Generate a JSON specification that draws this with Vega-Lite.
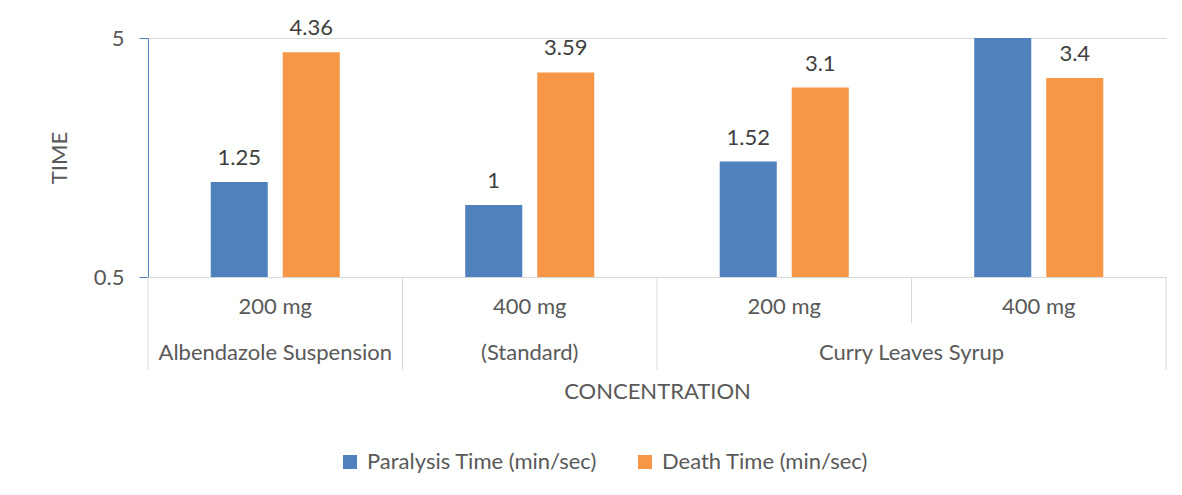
{
  "$schema": "https://vega.github.io/schema/vega-lite/v6.json",
  "width": 1018,
  "height": 239,
  "autosize": {"type": "none"},
  "padding": {"left": 148, "top": 38, "right": 16, "bottom": 218},
  "background": "white",
  "config": {"view": {"stroke": null}, "font": "Lato"},
  "data": {
    "values": [
      {"cat": "A200", "series": "Paralysis Time (min/sec)", "value": 1.25},
      {"cat": "A200", "series": "Death Time (min/sec)", "value": 4.36},
      {"cat": "A400", "series": "Paralysis Time (min/sec)", "value": 1},
      {"cat": "A400", "series": "Death Time (min/sec)", "value": 3.59},
      {"cat": "C200", "series": "Paralysis Time (min/sec)", "value": 1.52},
      {"cat": "C200", "series": "Death Time (min/sec)", "value": 3.1},
      {"cat": "C400", "series": "Paralysis Time (min/sec)", "value": 5.2},
      {"cat": "C400", "series": "Death Time (min/sec)", "value": 3.4}
    ]
  },
  "layer": [
    {
      "mark": {"type": "bar", "clip": true},
      "encoding": {
        "x": {
          "field": "cat", "type": "nominal", "title": "CONCENTRATION",
          "scale": {"domain": ["A200", "A400", "C200", "C400"], "paddingInner": 0, "paddingOuter": 0},
          "axis": {
            "ticks": false, "domainColor": "#D9D9D9",
            "labelExpr": "slice(datum.value,1) + ' mg'", "labelAngle": 0, "labelFontSize": 22,
            "labelColor": "#595959", "labelPadding": 19, "titleFontSize": 22, "titleColor": "#595959",
            "titleFontWeight": "normal", "titlePadding": 64, "grid": false
          }
        },
        "xOffset": {
          "field": "series", "type": "nominal",
          "scale": {"domain": ["Paralysis Time (min/sec)", "Death Time (min/sec)"], "paddingInner": 0.208, "paddingOuter": 0.871}
        },
        "y": {
          "field": "value", "type": "quantitative", "title": "TIME",
          "scale": {"type": "log", "domain": [0.5, 5], "nice": false},
          "axis": {
            "values": [0.5, 5], "domainColor": "#4F81BD", "tickColor": "#4F81BD", "tickSize": 9,
            "labelPadding": 15, "labelFontSize": 22, "labelColor": "#595959", "grid": true, "gridColor": "#D9D9D9",
            "titleFontSize": 22, "titleColor": "#595959", "titleFontWeight": "normal", "titlePadding": 22
          }
        },
        "y2": {"datum": 0.5},
        "color": {
          "field": "series", "type": "nominal",
          "scale": {"domain": ["Paralysis Time (min/sec)", "Death Time (min/sec)"], "range": ["#4F81BD", "#F79646"]},
          "legend": {
            "orient": "none", "legendX": 191, "legendY": 413, "direction": "horizontal", "title": null,
            "symbolType": "square", "symbolSize": 196, "labelOffset": 6, "labelLimit": 400,
            "labelFontSize": 22, "labelColor": "#595959", "columnPadding": 36
          }
        }
      }
    },
    {
      "transform": [{"filter": "datum.value <= 5"}],
      "mark": {"type": "text", "dy": -17, "baseline": "alphabetic", "fontSize": 22, "color": "#404040"},
      "encoding": {
        "x": {"field": "cat", "type": "nominal"},
        "xOffset": {"field": "series", "type": "nominal"},
        "y": {"field": "value", "type": "quantitative"},
        "text": {"field": "value", "type": "nominal"}
      }
    },
    {
      "data": {"values": [{"cat": "A400"}, {"cat": "C400"}]},
      "mark": {"type": "rule", "color": "#D9D9D9", "strokeWidth": 1},
      "encoding": {
        "x": {"field": "cat", "type": "nominal", "bandPosition": 0},
        "y": {"datum": 0.5, "type": "quantitative"},
        "y2": {"datum": 0.321}
      }
    },
    {
      "data": {"values": [{"cat": "A200"}, {"cat": "A400"}, {"cat": "C200"}]},
      "mark": {"type": "rule", "color": "#D9D9D9", "strokeWidth": 1},
      "encoding": {
        "x": {"field": "cat", "type": "nominal", "bandPosition": 0},
        "y": {"datum": 0.5, "type": "quantitative"},
        "y2": {"datum": 0.204}
      }
    },
    {
      "data": {"values": [{"cat": "C400"}]},
      "mark": {"type": "rule", "color": "#D9D9D9", "strokeWidth": 1},
      "encoding": {
        "x": {"field": "cat", "type": "nominal", "bandPosition": 1},
        "y": {"datum": 0.5, "type": "quantitative"},
        "y2": {"datum": 0.204}
      }
    },
    {
      "data": {"values": [{"cat": "A200", "label": "Albendazole Suspension"}, {"cat": "A400", "label": "(Standard)"}]},
      "mark": {"type": "text", "baseline": "middle", "fontSize": 22, "color": "#595959"},
      "encoding": {
        "x": {"field": "cat", "type": "nominal", "bandPosition": 0.5},
        "y": {"datum": 0.24, "type": "quantitative"},
        "text": {"field": "label"}
      }
    },
    {
      "data": {"values": [{"cat": "C400", "label": "Curry Leaves Syrup"}]},
      "mark": {"type": "text", "baseline": "middle", "fontSize": 22, "color": "#595959"},
      "encoding": {
        "x": {"field": "cat", "type": "nominal", "bandPosition": 0},
        "y": {"datum": 0.24, "type": "quantitative"},
        "text": {"field": "label"}
      }
    }
  ]
}
